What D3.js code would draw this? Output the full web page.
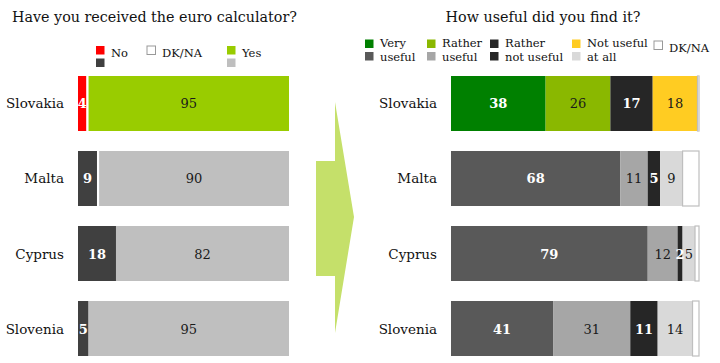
<!DOCTYPE html>
<html>
<head>
<meta charset="utf-8">
<script src="https://cdn.jsdelivr.net/npm/d3@7"></script>
<style>
body { margin: 0; background: #fff; }
svg text { font-family: "DejaVu Serif", serif; }
</style>
</head>
<body>
<svg width="720" height="363"></svg>
<script>
var countries = ["Slovakia", "Malta", "Cyprus", "Slovenia"];

// Have you received the euro calculator?
var recvKeys = ["No", "DK/NA", "Yes"];
var recvNo = [4, 9, 18, 5];
var recvDk = [1, 1, 0, 0];
var recvYes = [95, 90, 82, 95];

// How useful did you find it?
var useKeys = ["Very useful", "Rather useful", "Rather not useful", "Not useful at all", "DK/NA"];
var useVery = [38, 68, 79, 41];
var useRather = [26, 11, 12, 31];
var useRatherNot = [17, 5, 2, 11];
var useNot = [18, 9, 5, 14];
var useDk = [1, 7, 2, 3];

var recvColors = { hi: ["#ff0000", "#ffffff", "#99cc00"], lo: ["#404040", "#ffffff", "#bfbfbf"] };
var recvText = ["#ffffff", "#000", "#1a1a1a"];
var useColors = { hi: ["#008000", "#8ab800", "#262626", "#ffcc22", "#ffffff"],
                  lo: ["#595959", "#a6a6a6", "#262626", "#d9d9d9", "#ffffff"] };
var useText = ["#ffffff", "#1a1a1a", "#ffffff", "#1a1a1a", "#000"];

var svg = d3.select("svg");

var y = d3.scaleBand().domain(countries).range([76, 356]).paddingInner(0.2667);
var xL = d3.scaleLinear().domain([0, 100]).range([78, 289]);
var xR = d3.scaleLinear().domain([0, 100]).range([451, 700]);

function build(cols) {
  return countries.map(function(c, i) {
    var x0 = 0;
    return cols.map(function(arr, k) {
      var s = { country: c, row: i, k: k, v: arr[i], x0: x0, x1: x0 + arr[i] };
      x0 += arr[i];
      return s;
    });
  });
}

var recvData = build([recvNo, recvDk, recvYes]);
var useData = build([useVery, useRather, useRatherNot, useNot, useDk]);

// arrow
svg.append("polygon")
  .attr("points", "316,161 335,161 335,102 354,217 335,333 335,276 316,276")
  .attr("fill", "#c5e06a");

// titles
svg.append("text").attr("x", 12).attr("y", 22).attr("font-size", 14.3).attr("fill", "#111")
  .text("Have you received the euro calculator?");
svg.append("text").attr("x", 543).attr("y", 22).attr("text-anchor", "middle").attr("font-size", 14.3).attr("fill", "#111")
  .text("How useful did you find it?");

// category labels
[[64, "left"], [437, "right"]].forEach(function(p) {
  svg.append("g").selectAll("text").data(countries).enter().append("text")
    .attr("x", p[0]).attr("y", d => y(d) + y.bandwidth() / 2 + 5)
    .attr("text-anchor", "end").attr("font-size", 13.5).attr("fill", "#111")
    .text(d => d);
});

function drawBars(data, x, colors, textCols, dkIndex, dkStroke) {
  var g = svg.append("g");
  var rows = g.selectAll("g").data(data).enter().append("g");
  rows.selectAll("rect").data(d => d).enter().append("rect")
    .attr("x", d => x(d.x0))
    .attr("y", d => y(d.country))
    .attr("width", d => Math.max(0, x(d.x1) - x(d.x0) - (dkStroke && d.k == dkIndex ? 1 : 0)))
    .attr("height", y.bandwidth())
    .attr("fill", d => (d.row == 0 ? colors.hi : colors.lo)[d.k])
    .attr("stroke", d => (dkStroke && d.k == dkIndex && d.v > 0) ? "#bfbfbf" : "none")
    .attr("stroke-width", 1.2);
  rows.selectAll("text").data(d => d.filter(s => s.k != dkIndex)).enter().append("text")
    .attr("x", d => (x(d.x0) + x(d.x1)) / 2)
    .attr("y", d => y(d.country) + y.bandwidth() / 2 + 5)
    .attr("text-anchor", "middle").attr("font-size", 13)
    .attr("font-weight", d => textCols[d.k] == "#ffffff" ? "bold" : "normal")
    .attr("fill", d => textCols[d.k])
    .text(d => d.v);
}

drawBars(recvData, xL, recvColors, recvText, 1, false);
drawBars(useData, xR, useColors, useText, 4, true);

// legends
function legend(items) {
  var g = svg.append("g");
  items.forEach(function(it) {
    g.append("rect").attr("x", it.x).attr("y", it.y).attr("width", 8.5).attr("height", 8.5)
      .attr("fill", it.c1).attr("stroke", it.c1 == "#ffffff" ? "#999" : "none");
    if (it.c2) g.append("rect").attr("x", it.x).attr("y", it.y + 12.5).attr("width", 8.5).attr("height", 8.5).attr("fill", it.c2);
    var t = g.append("text").attr("x", it.x + 15).attr("font-size", 11.5).attr("fill", "#111");
    it.lines.forEach(function(l, j) {
      t.append("tspan").attr("x", it.x + 15).attr("y", it.ty + j * 14.5).text(l);
    });
  });
}

legend([
  { x: 96, y: 46, ty: 57, c1: recvColors.hi[0], c2: recvColors.lo[0], lines: ["No"] },
  { x: 147, y: 46, ty: 57, c1: "#ffffff", c2: null, lines: ["DK/NA"] },
  { x: 227, y: 46, ty: 57, c1: recvColors.hi[2], c2: recvColors.lo[2], lines: ["Yes"] }
]);

var useLegendX = [365, 427, 490, 572, 654];
var useLegendLines = [["Very", "useful"], ["Rather", "useful"], ["Rather", "not useful"], ["Not useful", "at all"], ["DK/NA"]];
legend(useKeys.map(function(k, i) {
  return { x: useLegendX[i], y: i == 4 ? 41 : 39.5, ty: i == 4 ? 52 : 46.5,
           c1: useColors.hi[i], c2: i == 4 ? null : useColors.lo[i], lines: useLegendLines[i] };
}));
</script>
</body>
</html>
